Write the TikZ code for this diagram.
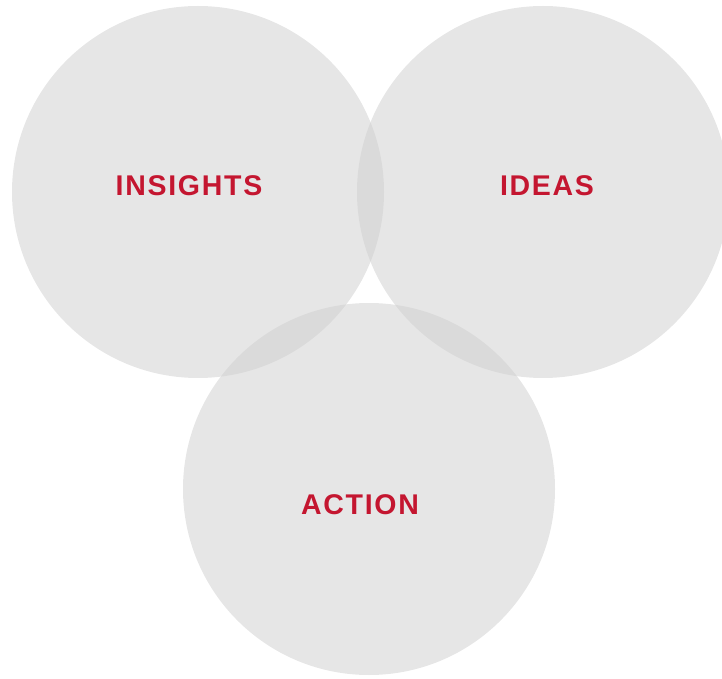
\documentclass[tikz,border=0pt]{standalone}
\usepackage{fontspec}
\setmainfont{Liberation Sans}
\newfontfamily\lblfont[LetterSpace=6]{Liberation Sans Bold}
\definecolor{circfill}{RGB}{207,207,207}
\definecolor{lblred}{RGB}{196,22,48}
\begin{document}
\begin{tikzpicture}[x=1pt,y=1pt,
  venn/.style={circle, fill=circfill, fill opacity=0.52, minimum size=372pt, inner sep=0pt, draw=none},
  lbl/.style={text=lblred, font=\lblfont\fontsize{28.5}{32}\selectfont, text opacity=1}]
\useasboundingbox (0,0) rectangle (722,678);
\begin{scope}
\clip (0,0) rectangle (722,678);
\node[venn] (cinsights) at (198,486) {};
\node[venn] (cideas) at (543,486) {};
\node[venn] (caction) at (369,189) {};
\end{scope}
\node[lbl] (tinsights) at (189,492) {INSIGHTS};
\node[lbl] (tideas) at (547,492) {IDEAS};
\node[lbl] (taction) at (360,173) {ACTION};
\end{tikzpicture}
\end{document}
